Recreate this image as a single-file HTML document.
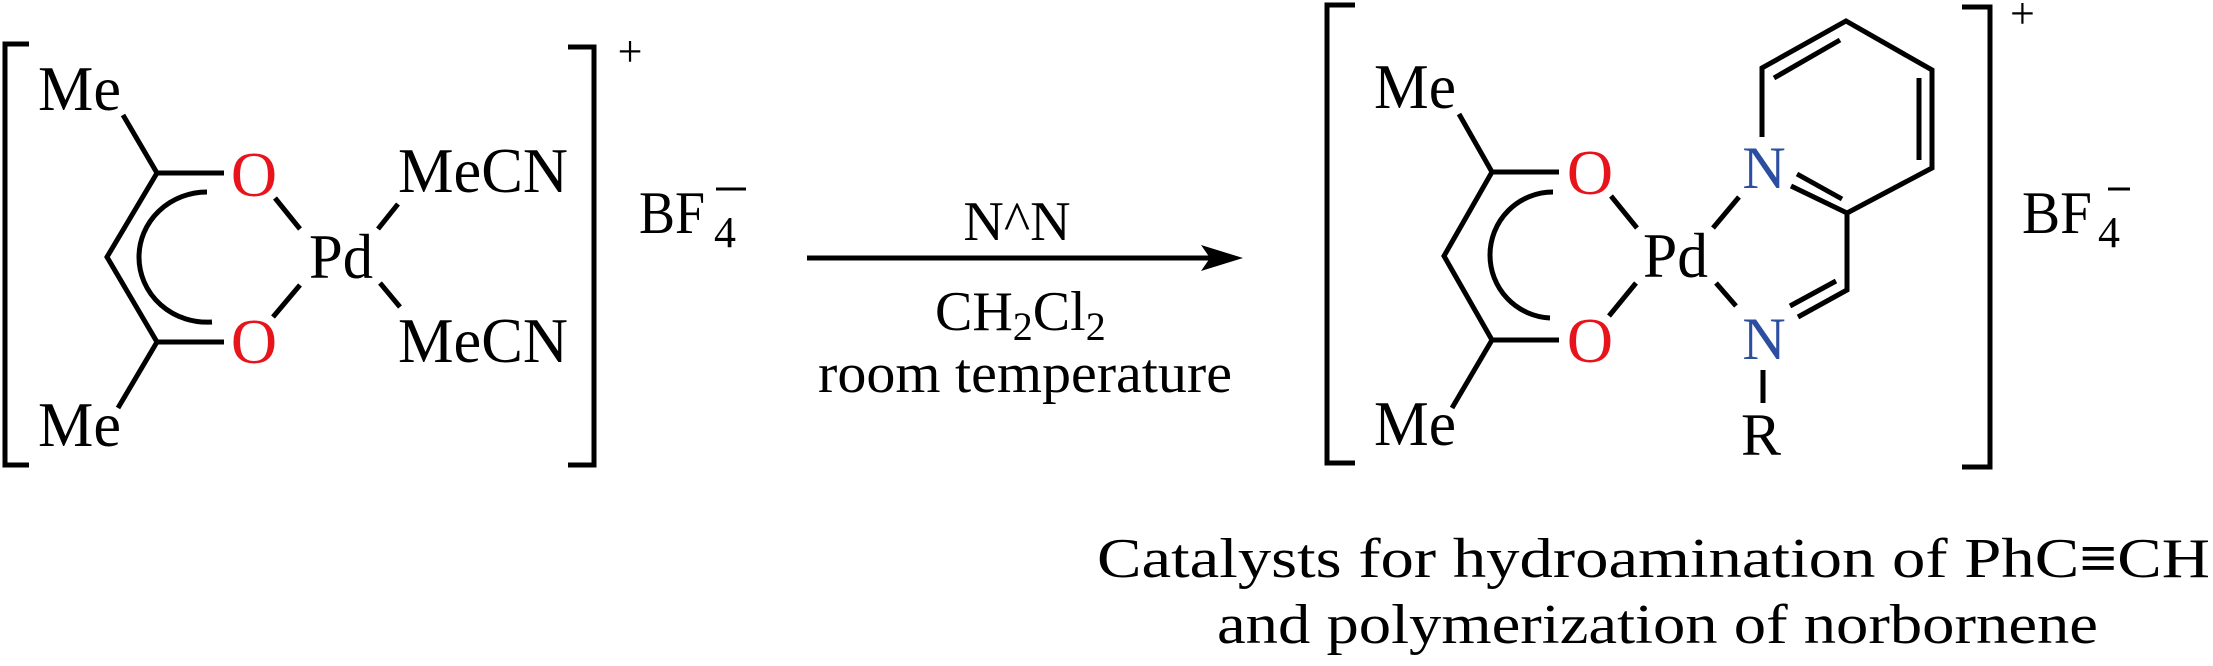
<!DOCTYPE html>
<html><head><meta charset="utf-8"><style>
html,body{margin:0;padding:0;background:#fff;}
svg{display:block;}
text{font-family:"Liberation Serif",serif;fill:#000;}
</style></head><body>
<svg width="2213" height="666" viewBox="0 0 2213 666" xmlns="http://www.w3.org/2000/svg">
<g stroke="#000" stroke-width="5" fill="none" stroke-linecap="butt">
<polyline points="29,44 5,44 5,465 29,465" stroke-width="5"/>
<polyline points="568,47 594,47 594,465 568,465" stroke-width="5"/>
<line x1="123" y1="115" x2="157" y2="173"/>
<polyline points="224,173 157,173 107,257 157,342 224,342"/>
<line x1="118" y1="408" x2="157" y2="342"/>
<path d="M207,192 A68,65 0 0 0 139,257 A68,65 0 0 0 212,322"/>
<line x1="275" y1="198" x2="300" y2="229"/>
<line x1="300" y1="285" x2="273" y2="317"/>
<line x1="378" y1="229" x2="398" y2="204"/>
<line x1="380" y1="283" x2="400" y2="307"/>
<line x1="807" y1="258" x2="1210" y2="258"/>
<polyline points="1355,5 1327,5 1327,463 1355,463" stroke-width="5"/>
<polyline points="1962,7 1990,7 1990,467 1962,467" stroke-width="5"/>
<line x1="1459" y1="114" x2="1492" y2="172"/>
<polyline points="1559,172 1492,172 1444,256 1492,340 1559,340"/>
<line x1="1452" y1="408" x2="1492" y2="340"/>
<path d="M1553,192 A63,63 0 0 0 1490,255 A63,63 0 0 0 1550,318"/>
<line x1="1611" y1="196" x2="1637" y2="228"/>
<line x1="1636" y1="283" x2="1609" y2="316"/>
<line x1="1713" y1="228" x2="1739" y2="197"/>
<line x1="1716" y1="283" x2="1736" y2="306"/>
<polyline points="1762,137 1762,68 1846,21 1932,70 1932,168 1847,213 1847,290 1798,317"/>
<line x1="1791" y1="186" x2="1847" y2="213"/>
<line x1="1774" y1="78" x2="1840" y2="40"/>
<line x1="1919" y1="78" x2="1919" y2="160"/>
<line x1="1797" y1="174" x2="1842" y2="199"/>
<line x1="1790" y1="306" x2="1836" y2="281"/>
<line x1="1763" y1="370" x2="1763" y2="403"/>
</g>
<polygon points="1243,258 1201,245 1210,258 1201,271" fill="#000"/>
<text x="38" y="110" font-size="64" textLength="83" lengthAdjust="spacingAndGlyphs">Me</text>
<text x="38" y="446" font-size="64" textLength="83" lengthAdjust="spacingAndGlyphs">Me</text>
<text x="254" y="196" font-size="64" text-anchor="middle" style="fill:#e8141c">O</text>
<text x="254" y="363" font-size="64" text-anchor="middle" style="fill:#e8141c">O</text>
<text x="309" y="278" font-size="64" textLength="64" lengthAdjust="spacingAndGlyphs">Pd</text>
<text x="398" y="192" font-size="64" textLength="170" lengthAdjust="spacingAndGlyphs">MeCN</text>
<text x="398" y="362" font-size="64" textLength="170" lengthAdjust="spacingAndGlyphs">MeCN</text>
<text x="630" y="66" font-size="44" text-anchor="middle">+</text>
<text x="639" y="233" font-size="60" textLength="66" lengthAdjust="spacingAndGlyphs">BF</text>
<text x="714" y="247" font-size="44">4</text>
<line x1="716" y1="189" x2="746" y2="189" stroke="#000" stroke-width="3"/>
<text x="1017" y="240" font-size="56" text-anchor="middle">N^N</text>
<text x="935" y="330" font-size="56">CH<tspan font-size="40" dy="10">2</tspan><tspan dy="-10">Cl</tspan><tspan font-size="40" dy="10">2</tspan></text>
<text x="818" y="392" font-size="56" textLength="414" lengthAdjust="spacingAndGlyphs">room temperature</text>
<text x="1374" y="108" font-size="64" textLength="82" lengthAdjust="spacingAndGlyphs">Me</text>
<text x="1374" y="445" font-size="64" textLength="82" lengthAdjust="spacingAndGlyphs">Me</text>
<text x="1590" y="194" font-size="64" text-anchor="middle" style="fill:#e8141c">O</text>
<text x="1590" y="362" font-size="64" text-anchor="middle" style="fill:#e8141c">O</text>
<text x="1643" y="277" font-size="64" textLength="65" lengthAdjust="spacingAndGlyphs">Pd</text>
<text x="1764" y="188" font-size="60" text-anchor="middle" style="fill:#2b4ea0">N</text>
<text x="1764" y="359" font-size="60" text-anchor="middle" style="fill:#2b4ea0">N</text>
<text x="1761" y="455" font-size="60" text-anchor="middle">R</text>
<text x="2010" y="28" font-size="44">+</text>
<text x="2022" y="233" font-size="60" textLength="70" lengthAdjust="spacingAndGlyphs">BF</text>
<text x="2098" y="247" font-size="44">4</text>
<line x1="2108" y1="189" x2="2130" y2="189" stroke="#000" stroke-width="3"/>
<text x="1097" y="577" font-size="56" textLength="1113" lengthAdjust="spacingAndGlyphs">Catalysts for hydroamination of PhC<tspan font-weight="bold">≡</tspan>CH</text>
<text x="1217" y="643" font-size="56" textLength="881" lengthAdjust="spacingAndGlyphs">and polymerization of norbornene</text>
</svg>
</body></html>
